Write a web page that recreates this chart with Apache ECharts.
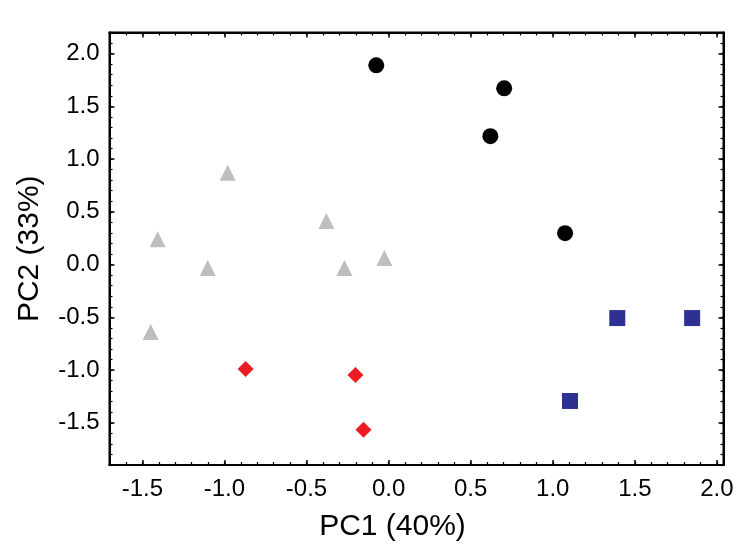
<!DOCTYPE html>
<html>
<head>
<meta charset="utf-8">
<script src="https://cdn.jsdelivr.net/npm/echarts@6/dist/echarts.min.js"></script>
<style>html,body{margin:0;padding:0;background:#fff;}#c{width:743px;height:558px;}</style>
</head>
<body>
<div id="c"></div>
<script>
// Data (PC1, PC2) per group
const circles = [[-0.075, 1.889], [0.704, 1.671], [0.62, 1.217], [1.075, 0.298]];
const squares = [[1.393, -0.507], [1.849, -0.507], [1.105, -1.293]];
const triangles = [[-0.98, 0.87], [-1.407, 0.241], [-1.102, -0.033], [-1.449, -0.639], [-0.379, 0.412], [-0.269, -0.033], [-0.026, 0.062]];
const diamonds = [[-0.871, -0.99], [-0.202, -1.046], [-0.153, -1.567]];
const xTicks = [-1.5, -1.0, -0.5, 0.0, 0.5, 1.0, 1.5, 2.0];
const yTicks = [-1.5, -1.0, -0.5, 0.0, 0.5, 1.0, 1.5, 2.0];
const xRange = [-1.7, 2.04];
const yRange = [-1.9, 2.2];
const xTitle = 'PC1 (40%)';
const yTitle = 'PC2 (33%)';

function minors(lo, hi, step) {
  const out = [];
  const s = Math.ceil(lo / step - 1e-9), e = Math.floor(hi / step + 1e-9);
  for (let i = s; i <= e; i++) out.push(+(i * step).toFixed(6));
  return out;
}
const xMinor = minors(xRange[0], xRange[1], 0.1);
const yMinor = minors(yRange[0], yRange[1], 0.1);
const FONT = 'Liberation Sans, Arial, sans-serif';

function axis(kind, pos, major, minor, lbl, name) {
  const range = kind === 'x' ? xRange : yRange;
  const base = {
    type: 'value', position: pos, min: range[0], max: range[1],
    splitLine: { show: false }
  };
  const a = Object.assign({}, base, {
    axisLine: { show: true, onZero: false, lineStyle: { color: '#000', width: 2 } },
    axisTick: { show: true, inside: true, length: 5, customValues: major, lineStyle: { color: '#000', width: 1.5 } },
    axisLabel: lbl ? { show: true, customValues: major, formatter: v => v.toFixed(1), color: '#000', fontSize: 24, fontFamily: FONT, margin: kind === 'x' ? 12 : 10 } : { show: false }
  });
  if (name) {
    a.name = name;
    a.nameLocation = 'middle';
    a.nameGap = kind === 'x' ? 47 : 65;
    a.nameTextStyle = kind === 'x'
      ? { fontSize: 30, fontFamily: FONT, color: '#000', padding: [0, 48, 0, 0] }
      : { fontSize: 30, fontFamily: FONT, color: '#000' };
  }
  const b = Object.assign({}, base, {
    axisLine: { show: false, onZero: false },
    axisTick: { show: true, inside: true, length: 3, customValues: minor, lineStyle: { color: '#000', width: 1.2 } },
    axisLabel: { show: false }
  });
  return [a, b];
}

const xAxes = [].concat(axis('x', 'bottom', xTicks, xMinor, true, xTitle), axis('x', 'top', xTicks, xMinor, false, null));
const yAxes = [].concat(axis('y', 'left', yTicks, yMinor, true, yTitle), axis('y', 'right', yTicks, yMinor, false, null));

const chart = echarts.init(document.getElementById('c'), null, { renderer: 'canvas' });
chart.setOption({
  animation: false,
  backgroundColor: '#fff',
  grid: { left: 109.5, right: 19.5, top: 32.5, bottom: 93, containLabel: false, outerBoundsMode: 'none',
          show: true, borderColor: '#000', borderWidth: 2, backgroundColor: 'transparent' },
  xAxis: xAxes,
  yAxis: yAxes,
  series: [
    { type: 'scatter', data: circles, symbol: 'circle', symbolSize: 16, itemStyle: { color: '#000', opacity: 1 } },
    { type: 'scatter', data: squares, symbol: 'rect', symbolSize: 16, itemStyle: { color: '#2E3192', opacity: 1 } },
    { type: 'scatter', data: triangles, symbol: 'triangle', symbolSize: 16, itemStyle: { color: '#BEBEBE', opacity: 1 } },
    { type: 'scatter', data: diamonds, symbol: 'diamond', symbolSize: 16, itemStyle: { color: '#ED1C24', opacity: 1 } }
  ]
});
</script>
</body>
</html>
